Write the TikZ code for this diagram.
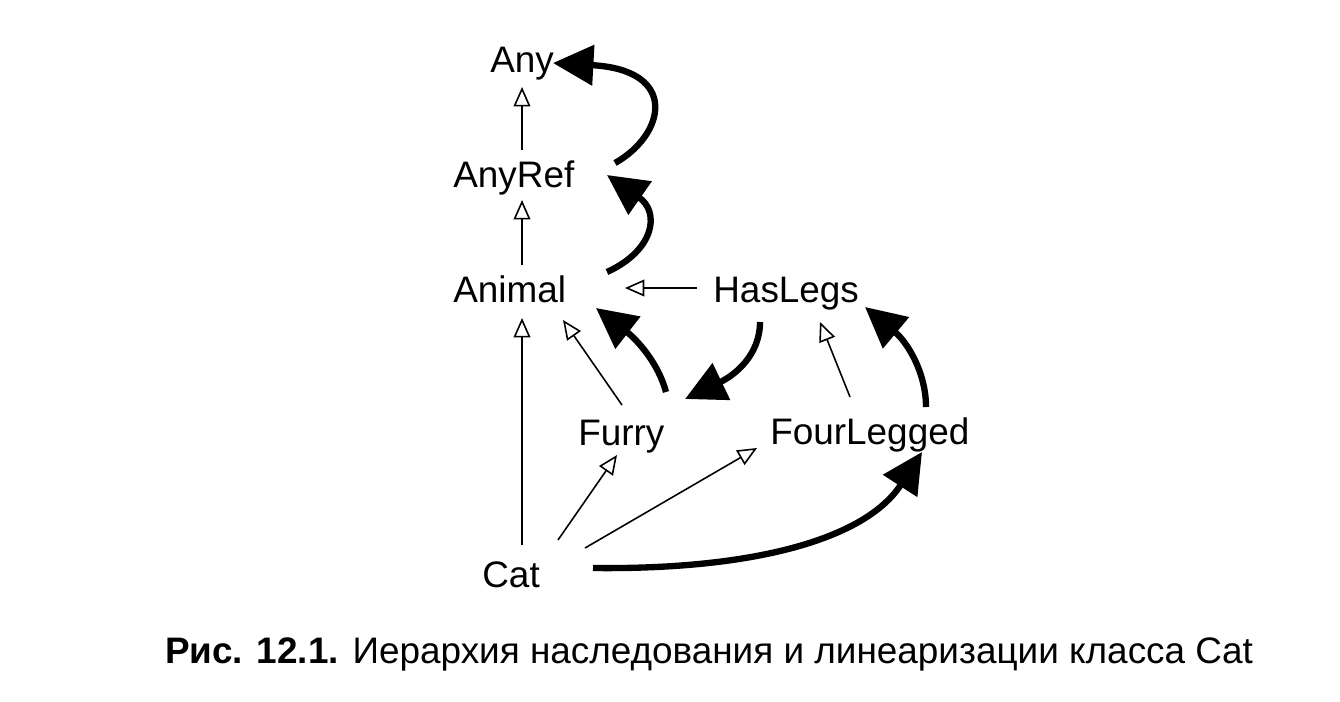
\documentclass[tikz,border=0pt]{standalone}
\usepackage{fontspec}
\setmainfont{Liberation Sans}
\usetikzlibrary{arrows.meta}
\tikzstyle{cls} = [inner sep=0pt, anchor=base west, font=\fontsize{21}{25}\selectfont]
\tikzstyle{inherit} = [line width=0.9pt, -{Triangle[open, length=11pt, width=9.5pt]}]
\tikzstyle{linear} = [line width=3.6pt, -{Triangle[length=23pt, width=22.5pt]}]
\tikzstyle{caption} = [inner sep=0pt, anchor=base, font=\fontsize{21}{25}\selectfont]

\begin{document}
\begin{tikzpicture}[x=0.02cm, y=-0.02cm]
        \useasboundingbox (0,0) rectangle (1340,701);

        % Nodes
        \node (any) [cls] at (490,72) {Any};
        \node (anyref) [cls] at (453,187) {AnyRef};
        \node (animal) [cls] at (453,302) {Animal};
        \node (haslegs) [cls] at (713,302) {HasLegs};
        \node (furry) [cls] at (578,445) {Furry};
        \node (fourlegged) [cls] at (770,444) {FourLegged};
        \node (cat) [cls] at (482,587) {Cat};

        % Inheritance arrows
        \draw [inherit] ([shift={(69,-37)}]anyref.base west) -- ([shift={(32,15)}]any.base west);
        \draw [inherit] ([shift={(69,-37)}]animal.base west) -- ([shift={(69,13)}]anyref.base west);
        \draw [inherit] ([shift={(40,-42)}]cat.base west) -- ([shift={(69,16)}]animal.base west);
        \draw [inherit] ([shift={(-16,-14)}]haslegs.base west) -- ([shift={(172,-14)}]animal.base west);
        \draw [inherit] ([shift={(44,-40)}]furry.base west) -- ([shift={(110,18)}]animal.base west);
        \draw [inherit] ([shift={(76,-47)}]cat.base west) -- ([shift={(39,10)}]furry.base west);
        \draw [inherit] ([shift={(103,-39)}]cat.base west) -- ([shift={(-13,4)}]fourlegged.base west);
        \draw [inherit] ([shift={(80,-47)}]fourlegged.base west) -- ([shift={(107,20)}]haslegs.base west);

        % Linearization arrows
        \draw [linear] ([shift={(111,-19)}]cat.base west) .. controls (760,570) and (867,537) .. ([shift={(152,8)}]fourlegged.base west);
        \draw [linear] ([shift={(156,-37)}]fourlegged.base west) .. controls (926,372) and (907,342) .. ([shift={(152,5)}]haslegs.base west);
        \draw [linear] ([shift={(47,20)}]haslegs.base west) .. controls (760,355) and (735,375) .. ([shift={(107,-46)}]furry.base west);
        \draw [linear] ([shift={(88,-53)}]furry.base west) .. controls (658,362) and (636,339) .. ([shift={(143,6)}]animal.base west);
        \draw [linear] ([shift={(154,-30)}]animal.base west) .. controls (655,250) and (660,212) .. ([shift={(154,-12)}]anyref.base west);
        \draw [linear] ([shift={(162,-24)}]anyref.base west) .. controls (665,135) and (680,70) .. ([shift={(63,-9)}]any.base west);

        % Caption
        \node (title) [caption] at (709,663) {\textbf{Рис. 12.1.} Иерархия наследования и линеаризации класса Cat};
\end{tikzpicture}
\end{document}
